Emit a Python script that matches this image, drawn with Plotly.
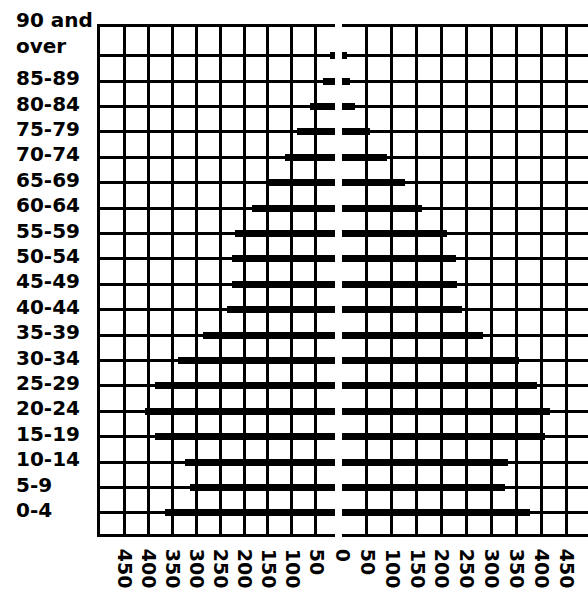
import plotly.graph_objects as go
from plotly.subplots import make_subplots

# ---- data ----
age_groups = ["0-4", "5-9", "10-14", "15-19", "20-24", "25-29", "30-34", "35-39",
              "40-44", "45-49", "50-54", "55-59", "60-64", "65-69", "70-74",
              "75-79", "80-84", "85-89", "90 and over"]
male = [365, 312, 323, 385, 406, 385, 337, 285, 235, 225, 225, 219, 183, 152,
        115, 90, 62, 35, 20]
female = [378, 327, 333, 408, 418, 392, 355, 283, 241, 231, 229, 211, 160, 126,
          90, 56, 26, 16, 10]
left_tick_values = [50, 100, 150, 200, 250, 300, 350, 400, 450]
right_tick_values = [0, 50, 100, 150, 200, 250, 300, 350, 400, 450]

# ---- layout constants ----
W, H = 588, 591
ML, MR, MT, MB = 100, 0, 27, 57
PW = W - ML - MR
FONT = "DejaVu Sans"
INK = "black"

fig = make_subplots(rows=1, cols=2, shared_yaxes=True, horizontal_spacing=0)

fig.add_trace(go.Bar(y=age_groups, x=male, orientation="h", width=0.28,
                     marker=dict(color=INK, line=dict(width=0)),
                     showlegend=False, hoverinfo="x+y"), row=1, col=1)
fig.add_trace(go.Bar(y=age_groups, x=female, orientation="h", width=0.28,
                     marker=dict(color=INK, line=dict(width=0)),
                     showlegend=False, hoverinfo="x+y"), row=1, col=2)

tickfont = dict(family=FONT, size=19, color=INK, weight="bold")
common_x = dict(showgrid=True, gridcolor=INK, gridwidth=2.6, zeroline=False,
                showline=True, linecolor=INK, linewidth=3, mirror=True,
                tickmode="array", tickangle=90, tickfont=tickfont, ticks="",
                ticklabelstandoff=8, fixedrange=True)

fig.update_layout(
    width=W, height=H,
    margin=dict(l=ML, r=MR, t=MT, b=MB),
    paper_bgcolor="white", plot_bgcolor="white",
    bargap=0,
    xaxis=dict(domain=[0, 235 / PW], range=[500, 10.4],
               tickvals=left_tick_values,
               ticktext=[str(v) for v in left_tick_values], **common_x),
    xaxis2=dict(domain=[242 / PW, 1], range=[0, 494],
                tickvals=right_tick_values,
                ticktext=[str(v) for v in right_tick_values], **common_x),
    yaxis=dict(type="category", categoryorder="array", categoryarray=age_groups,
               range=[-0.83, 19.13], showgrid=True, gridcolor=INK, gridwidth=2.6,
               showline=True, linecolor=INK, linewidth=3, mirror=False,
               showticklabels=False, ticks="", zeroline=False, fixedrange=True),
    yaxis2=dict(type="category", categoryorder="array", categoryarray=age_groups,
                range=[-0.83, 19.13], showgrid=True, gridcolor=INK, gridwidth=2.6,
                showline=False, showticklabels=False, ticks="", zeroline=False,
                fixedrange=True, matches="y"),
)

# left-aligned age labels
label_x = (14 - ML) / PW
for g in age_groups:
    text = g.replace(" over", "<br>over") if "over" in g else g
    fig.add_annotation(xref="paper", yref="y", x=label_x, y=g, text=text,
                       xanchor="left", yanchor="middle", align="left",
                       showarrow=False, yshift=23 if "over" in g else 3,
                       font=dict(family=FONT, size=20, color=INK, weight="bold"))

fig.write_html("out.html", config={"displayModeBar": False},
               post_script="document.body.style.margin='0';"
                           "document.body.style.overflow='hidden';")
